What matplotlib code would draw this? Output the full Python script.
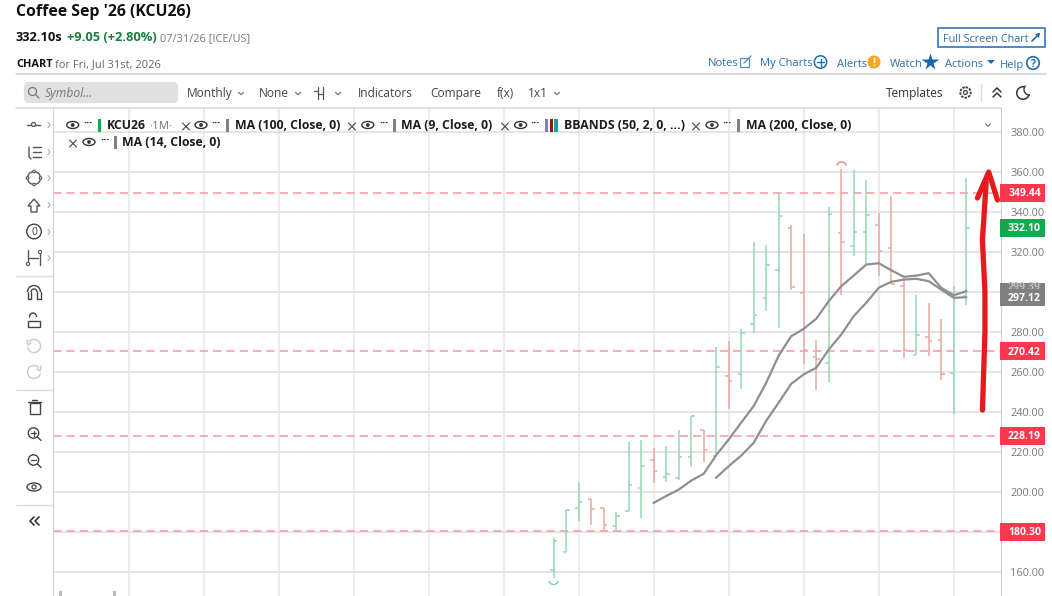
import matplotlib
matplotlib.use('Agg')
import matplotlib.pyplot as plt
from matplotlib.patches import Arc, Circle, Ellipse, FancyBboxPatch, Polygon, Rectangle

plt.rcParams['font.family'] = ['Open Sans', 'DejaVu Sans']

W, H = 1052, 596

# monthly OHLC
opens = [161.2, 169.9, 192.0, 196.6, 192.0, 182.9, 190.4, 202.1, 216.2, 207.6, 206.9, 217.6,
         231.2, 218.2, 257.9, 258.8, 283.8, 297.1, 310.8, 331.8, 299.6, 267.6, 264.6, 329.4,
         322.9, 330.1, 333.4, 321.9, 303.2, 268.4, 277.6, 276.2, 259.6, 298.0]
highs = [177.1, 190.9, 204.6, 196.6, 192.0, 190.0, 225.2, 226.1, 222.0, 222.9, 230.9, 237.9,
         231.2, 272.6, 275.4, 281.3, 324.9, 323.3, 349.6, 333.6, 328.8, 276.2, 342.6, 361.7,
         360.9, 356.2, 339.6, 347.9, 307.1, 298.6, 294.6, 286.7, 302.9, 357.2]
lows = [156.8, 169.9, 185.6, 183.4, 180.6, 180.9, 190.4, 187.1, 204.6, 205.1, 205.9, 212.7,
        214.9, 217.6, 241.3, 251.6, 279.6, 290.4, 281.9, 301.2, 263.8, 251.2, 254.9, 298.4,
        318.2, 313.7, 308.2, 304.1, 266.9, 268.4, 267.9, 255.9, 239.2, 293.4]
closes = [175.7, 190.9, 194.9, 191.3, 183.4, 187.9, 203.6, 212.9, 210.4, 208.8, 217.6, 237.9,
          220.9, 262.4, 255.7, 279.6, 288.6, 313.3, 337.8, 302.6, 271.2, 266.6, 338.9, 325.1,
          330.1, 338.4, 320.7, 304.2, 271.2, 278.7, 275.6, 259.0, 297.1, 332.1]

# first bar of each moving average is where it starts on the chart
ma9_start = 8
ma9 = [194.6, 198.0, 201.2, 205.7, 209.1, 218.4, 226.3, 234.7, 243.0, 254.6, 268.2, 277.9, 281.6,
       286.6, 295.4, 302.9, 308.2, 313.7, 314.4, 310.9, 307.6, 308.2, 309.4, 302.1, 298.4, 300.4]
ma14_start = 13
ma14 = [207.2, 212.9, 218.2, 224.6, 235.6, 244.7, 254.1, 258.8, 262.1, 271.2, 278.7, 287.9,
        294.6, 302.1, 305.1, 306.2, 306.6, 305.4, 301.2, 297.1, 297.4]

levels = [349.44, 270.42, 228.19, 180.30]
y_ticks = [160, 180, 200, 220, 240, 260, 280, 300, 320, 340, 360, 380]
hidden_ticks = [180, 300]  # covered by price tags
month_grid = [-34, -28, -22, -16, -10, -4, 2, 8, 14, 20, 26, 32]

# hand drawn arrow, in bar index / price
arrow_x = [34.3, 34.5, 34.5, 34.3, 34.6]
arrow_y = [241, 280, 300, 326, 355]
head_x = [33.9, 34.8, 35.5]
head_y = [347, 360, 346]

GREEN = '#93d9b0'
RED = '#eaa8a1'
GRID = '#dedede'
BLUE = '#2f6fa8'
DARK = '#3a3a3a'
ICON = '#555555'

fig = plt.figure(figsize=(W / 100, H / 100), dpi=100)

# chart area, pixel edges 53..1001 across and 108..596 down
ax = fig.add_axes([53 / W, 0, 948 / W, 488 / H])
ax.set_xlim((53 - 553.7) / 12.5, (1001 - 553.7) / 12.5)
ax.set_ylim(360 - (596 - 172) / 2, 360 + (172 - 108) / 2)
ax.set_xticks(month_grid)
ax.set_xticklabels([])
ax.set_yticks(y_ticks)
ax.set_yticklabels(['' if v in hidden_ticks else '%.2f' % v for v in y_ticks], color='#7a7a7a', fontsize=7.9)
ax.yaxis.tick_right()
ax.tick_params(length=0, pad=6.5)
ax.tick_params(axis='x', length=0)
ax.grid(axis='x', color='#ececec', lw=1.5)
ax.grid(axis='y', color=GRID, lw=1.1)
ax.set_axisbelow(True)
for name, sp in ax.spines.items():
    sp.set_visible(name in ('left', 'right'))
    sp.set_color('#cfcfcf')

for lv in levels:
    ax.axhline(lv, color='#fa9ea6', lw=1.2, ls=(0, (5, 3)), zorder=1.5)

for i in range(len(opens)):
    c = GREEN if closes[i] >= opens[i] else RED
    ax.vlines(i, lows[i], highs[i], color=c, lw=1.1, zorder=2)
    ax.hlines(opens[i], i - 0.27, i, color=c, lw=1.1, zorder=2)
    ax.hlines(closes[i], i, i + 0.27, color=c, lw=1.1, zorder=2)

ax.plot(range(ma9_start, ma9_start + len(ma9)), ma9, color='#8f8f8f', lw=1.6, zorder=3)
ax.plot(range(ma14_start, ma14_start + len(ma14)), ma14, color='#8f8f8f', lw=1.6, zorder=3)

ax.plot(arrow_x, arrow_y, color='#e8191c', lw=3.8, solid_capstyle='round', zorder=6, clip_on=False)
ax.plot(head_x, head_y, color='#e8191c', lw=3.8, solid_capstyle='round', solid_joinstyle='round',
        zorder=6, clip_on=False)

# everything around the chart is placed in screen pixels
ui = fig.add_axes([0, 0, 1, 1], facecolor='none')
ui.set_xlim(0, W)
ui.set_ylim(H, 0)
ui.axis('off')


# y is the middle of the digit height, the baseline keeps a row of words level
def label(x, y, s, size=8.8, color=DARK, weight='normal', **kw):
    kw.setdefault('ha', 'left')
    return ui.text(x, y + size * 0.5, s, fontsize=size, color=color, fontweight=weight, va='baseline', **kw)


def line(xs, ys, color=ICON, lw=1.0):
    ui.plot(xs, ys, color=color, lw=lw, solid_capstyle='round')


def chevron(x, y, color='#666666', s=2.5):
    line([x - s, x, x + s], [y - 1.2, y + 1.2, y - 1.2], color, 0.8)


def eye(x, y):
    ui.add_patch(Ellipse((x, y), 12, 7, fc='white', ec='#333333', lw=1.0))
    ui.add_patch(Circle((x, y), 1.9, fc='#333333', ec='none'))


def legend_item(eye_x, y, s, bar_colors, text_x, close_x=None, dots_x=None, bar_x=None):
    if close_x is not None:
        line([close_x - 3.5, close_x + 3.5], [y - 2, y + 5], '#444444', 0.8)
        line([close_x - 3.5, close_x + 3.5], [y + 5, y - 2], '#444444', 0.8)
    eye(eye_x, y)
    label(dots_x if dots_x else eye_x + 15, y - 3.5, '···', 8, '#333333', 'bold', ha='center')
    start = bar_x if bar_x else text_x - 8.5
    for k, c in enumerate(bar_colors):
        ui.add_patch(Rectangle((start + 4.6 * k, y - 6.5), 3.4, 13, fc=c, ec='none'))
    label(text_x, y, s, 8.8, '#1c1c1c', 'bold')


# header
label(16, 10, "Coffee Sep '26 (KCU26)", 11.4, '#111111', 'bold')
label(16, 36.5, '332.10s', 9.3, '#111111', 'bold')
label(67, 36.5, '+9.05 (+2.80%)', 9.3, '#1a7f3f', 'bold')
label(160, 37, '07/31/26 [ICE/US]', 7.9, '#777777')
label(16, 63, 'CHART', 7.9, '#111111', 'bold')
label(54.8, 63, 'for Fri, Jul 31st, 2026', 8.0, '#666666')
line([16, 1046], [73.5, 73.5], '#cfcfcf', 1.1)
line([16, 1001], [107.5, 107.5], '#d8d8d8', 1.1)

# top right links
ui.add_patch(Rectangle((938, 28), 107, 19, fc='white', ec='#1f6bb0', lw=1.1))
label(943, 38, 'Full Screen Chart', 7.8, BLUE)
line([1032, 1039], [41, 34], '#1f6bb0', 1.2)
ui.add_patch(Polygon([[1040, 33], [1035, 34], [1039, 38]], fc='#1f6bb0', ec='none'))
label(708, 62, 'Notes', 8, BLUE)
ui.add_patch(Rectangle((740, 58), 9, 9, fc='none', ec='#5a8fc0', lw=0.9))
line([744, 751], [63, 56], '#5a8fc0', 1.0)
label(760, 62, 'My Charts', 8, BLUE)
ui.add_patch(Circle((820.5, 62), 6.2, fc='white', ec='#1f6bb0', lw=1.1))
line([817, 824], [62, 62], '#1f6bb0', 1.0)
line([820.5, 820.5], [58.5, 65.5], '#1f6bb0', 1.0)
label(837, 63, 'Alerts', 8, BLUE)
ui.add_patch(Circle((874, 62), 6.5, fc='#f7a823', ec='none'))
label(874, 62, '!', 8, 'white', 'bold', ha='center')
label(890, 63, 'Watch', 8, BLUE)
ui.plot([929.5], [62], marker='*', ms=13, color='#1565b0', mec='none')
label(945, 63, 'Actions', 8, BLUE)
ui.add_patch(Polygon([[987, 60], [995, 60], [991, 64]], fc='#1f6bb0', ec='none'))
label(1000, 64, 'Help', 8, BLUE)
ui.add_patch(Circle((1033, 63), 6.3, fc='white', ec='#1f6bb0', lw=1.2))
label(1033, 63, '?', 7.6, '#1f6bb0', 'bold', ha='center')

# toolbar
ui.add_patch(FancyBboxPatch((26, 84), 150, 17, boxstyle='round,pad=0,rounding_size=3', fc='#e0e0e0', ec='#e0e0e0', lw=3))
ui.add_patch(Circle((32.5, 91.5), 4, fc='none', ec='#777777', lw=0.9))
line([35.5, 39], [94.5, 98], '#777777', 0.9)
label(45, 93, 'Symbol...', 8.7, '#777777', style='italic')
label(187, 93, 'Monthly', 8.6, '#444444')
chevron(241, 93.5)
label(258.6, 93, 'None', 8.6, '#444444')
chevron(298, 93.5)
line([318, 318], [87, 99], '#555555', 0.9)
line([314, 318], [91, 91], '#555555', 0.9)
line([323, 323], [87, 99], '#555555', 0.9)
line([318, 323], [94, 94], '#555555', 0.9)
chevron(338, 93.5)
label(358, 93, 'Indicators', 8.6, '#444444')
label(430, 93, 'Compare', 8.6, '#444444')
label(497, 93, 'f(x)', 8.6, '#444444')
label(528, 93, '1x1', 8.6, '#444444')
chevron(557, 93.5)
label(886, 93, 'Templates', 8.6, '#333333')
ui.add_patch(Circle((965.5, 92.5), 5.2, fc='none', ec='#444444', lw=1.4, ls=(0, (1.3, 0.6))))
ui.add_patch(Circle((965.5, 92.5), 2, fc='none', ec='#444444', lw=0.9))
line([980.5, 980.5], [84, 101], '#dddddd', 1.0)
line([993, 997, 1001], [92, 88, 92], '#333333', 1.1)
line([993, 997, 1001], [97, 93, 97], '#333333', 1.1)
ui.add_patch(Arc((1023, 93), 12.5, 12.5, theta1=10, theta2=280, ec='#333333', lw=1.1))
ui.add_patch(Arc((1029.5, 89.5), 11, 11, theta1=85, theta2=225, ec='#333333', lw=1.0))

# legend rows
legend_item(72.7, 125, 'KCU26', ['#16a84f'], 106.5, dots_x=88, bar_x=98)
label(148.7, 125, '·1M·', 8.2, '#777777')
legend_item(201, 125, 'MA (100, Close, 0)', ['#808080'], 234.6, 186, 216, 226)
legend_item(367.8, 125, 'MA (9, Close, 0)', ['#808080'], 401.3, 352, 384, 392.5)
legend_item(520.6, 125, 'BBANDS (50, 2, 0, ...)', ['#9370d8', '#8b1a1a', '#12a6a6'], 564, 505, 535, 545)
legend_item(712, 125, 'MA (200, Close, 0)', ['#808080'], 745.5, 696, 727, 736.5)
legend_item(89, 142, 'MA (14, Close, 0)', ['#808080'], 122.4, 73, 105, 114)
chevron(988, 125)

# left drawing tools
line([16, 52], [275.5, 275.5], '#dddddd', 1.0)
line([16, 52], [389.5, 389.5], '#dddddd', 1.0)
line([16, 52], [504.5, 504.5], '#dddddd', 1.0)
for yy in [125, 152, 178, 205, 232, 258]:
    line([48, 50, 48], [yy - 2.5, yy, yy + 2.5], '#aaaaaa', 0.8)
line([27, 40], [124.5, 124.5], ICON)
ui.add_patch(Circle((33.5, 124.5), 2, fc='white', ec=ICON, lw=0.9, zorder=3))
for yy in [147, 152, 157]:
    line([33, 41], [yy, yy], ICON)
line([29, 29, 31], [147, 157, 159], ICON)
ui.add_patch(Circle((34, 178), 6.5, fc='none', ec=ICON, lw=1.0))
for dx, dy in [(0, -6.5), (0, 6.5), (-6.5, 0), (6.5, 0)]:
    ui.add_patch(Circle((34 + dx, 178 + dy), 1.3, fc='white', ec=ICON, lw=0.8, zorder=3))
ui.add_patch(Polygon([[34, 199], [40, 206], [37, 206], [37, 212], [31, 212], [31, 206], [28, 206]], fc='none', ec=ICON, lw=1.0))
ui.add_patch(Circle((34, 231.5), 7.3, fc='none', ec='#444444', lw=1.0))
label(34, 231.5, '0', 7.5, '#444444', ha='center')
line([28, 28], [250, 265], ICON)
line([40, 40], [253, 265], ICON)
line([28, 38], [258, 258], ICON)
ui.add_patch(Circle((28, 264), 1.6, fc='white', ec=ICON, lw=0.8, zorder=3))
ui.add_patch(Circle((40, 252), 1.6, fc='white', ec=ICON, lw=0.8, zorder=3))
# magnet
ui.add_patch(Arc((34, 292), 13, 13, theta1=180, theta2=360, ec='#444444', lw=1.0))
ui.add_patch(Arc((34, 292), 6, 6, theta1=180, theta2=360, ec='#444444', lw=1.0))
line([27.5, 27.5, 31, 31], [292, 299, 299, 292], '#444444', 1.0)
line([37, 37, 40.5, 40.5], [292, 299, 299, 292], '#444444', 1.0)
ui.add_patch(Rectangle((28, 321), 12, 6, fc='white', ec='#444444', lw=1.0))
ui.add_patch(Arc((33, 317), 7, 8, theta1=170, theta2=360, ec='#444444', lw=1.0))
# undo / redo, greyed out
ui.add_patch(Arc((34, 346), 13, 13, theta1=-140, theta2=170, ec='#c9c9c9', lw=1.0))
line([27, 28, 31], [340, 345, 343], '#c9c9c9', 1.0)
ui.add_patch(Arc((34, 372), 13, 13, theta1=10, theta2=320, ec='#c9c9c9', lw=1.0))
line([41, 40, 37], [366, 371, 369], '#c9c9c9', 1.0)
ui.add_patch(Rectangle((29.5, 403), 10, 11, fc='white', ec='#444444', lw=1.0))
line([28, 41], [402, 402], '#444444', 1.0)
line([32, 37], [400, 400], '#444444', 1.0)
for yy, plus in [(433, True), (460, False)]:
    ui.add_patch(Circle((33.5, yy), 5.2, fc='none', ec='#444444', lw=1.0))
    line([37.5, 41], [yy + 4, yy + 7.5], '#444444', 1.0)
    line([31, 36], [yy, yy], '#444444', 0.9)
    if plus:
        line([33.5, 33.5], [yy - 2.5, yy + 2.5], '#444444', 0.9)
ui.add_patch(Ellipse((34, 487), 14, 8, fc='none', ec='#444444', lw=1.0))
ui.add_patch(Circle((34, 487), 2, fc='none', ec='#444444', lw=0.9))
line([34, 30, 34], [517, 521, 525], '#333333', 1.2)
line([39, 35, 39], [517, 521, 525], '#333333', 1.2)

# cropped date labels at the bottom edge
ui.add_patch(Rectangle((58.5, 591), 3, 5, fc='#bbbbbb', ec='none'))
ui.add_patch(Rectangle((113, 591), 3, 5, fc='#bbbbbb', ec='none'))

# high and low markers
ui.add_patch(Arc((841.5, 165.5), 9, 7, theta1=180, theta2=360, ec='#e8847a', lw=1.0))
ui.add_patch(Arc((553.7, 581), 9, 7, theta1=0, theta2=180, ec='#7fd0a0', lw=1.0))

# price tags on the right
tags = [('349.44', 192.5, '#fb3750'), ('332.10', 227.5, '#16a84f'), ('270.42', 351, '#fb3750'),
        ('228.19', 435.5, '#fb3750'), ('180.30', 531.5, '#fb3750')]
ui.add_patch(Rectangle((1000, 283), 45, 23, fc='#808080', ec='none', zorder=4))
label(1024.5, 286.5, '299.39', 7.6, '#bdbdbd', 'bold', ha='center', zorder=4.1)
ui.add_patch(Rectangle((1000, 288.5), 45, 17.5, fc='#808080', ec='none', zorder=4.2))
label(1024.5, 297.5, '297.12', 7.6, 'white', 'bold', ha='center', zorder=4.3)
for s, yy, c in tags:
    ui.add_patch(Rectangle((1000, yy - 9), 45, 18, fc=c, ec='none', zorder=4))
    label(1024.5, yy, s, 7.6, 'white', 'bold', ha='center', zorder=5)

fig.savefig('out.png', dpi=100)
